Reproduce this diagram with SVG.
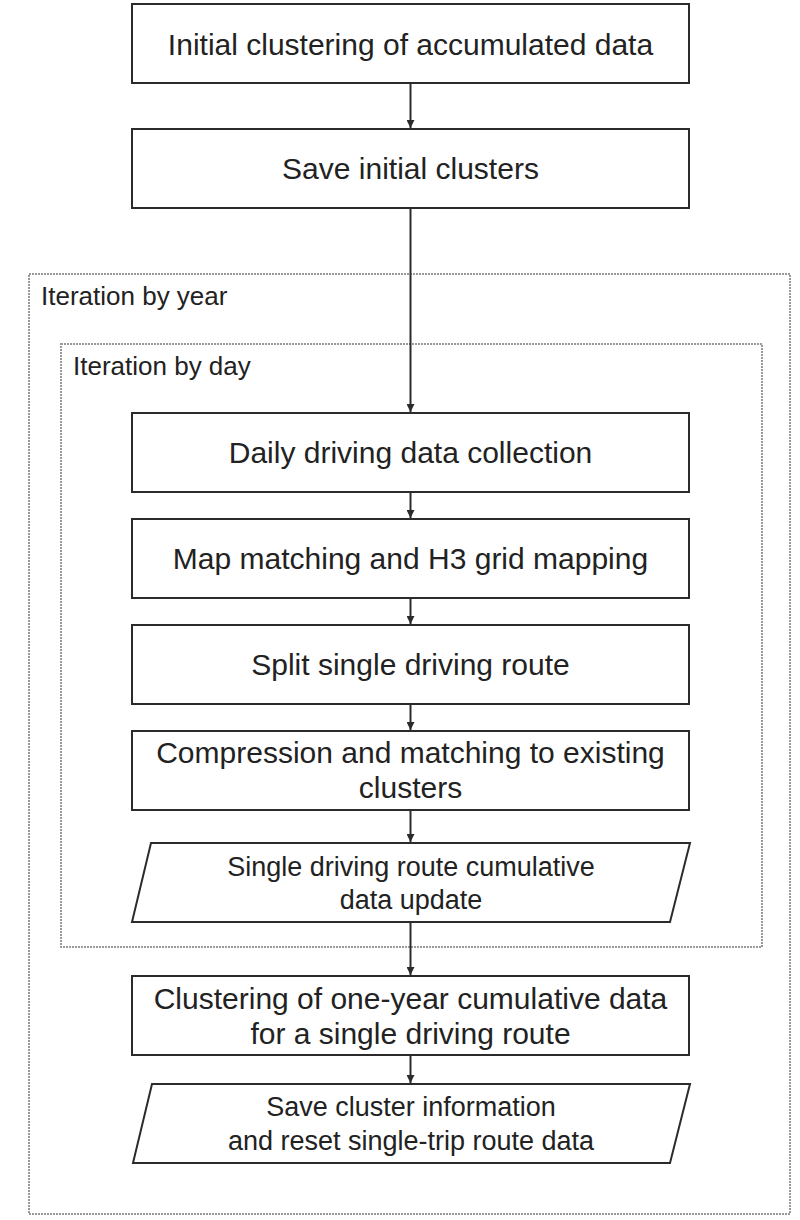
<svg xmlns="http://www.w3.org/2000/svg" width="800" height="1220" viewBox="0 0 800 1220">
<defs>
<style>
.box{fill:#fff;stroke:#2b2b2b;stroke-width:2}
.frame{fill:none;stroke:#9a9a9a;stroke-width:2;stroke-dasharray:2 1}
.t{font-family:"Liberation Sans",Arial,sans-serif;font-size:30px;fill:#222;text-anchor:middle}
.s{font-family:"Liberation Sans",Arial,sans-serif;font-size:27px;fill:#222;text-anchor:middle}
.lbl{font-family:"Liberation Sans",Arial,sans-serif;font-size:26px;fill:#222}
.c{stroke:#2b2b2b;stroke-width:2;fill:none}
</style>
<marker id="ah" viewBox="0 0 8 8" refX="8" refY="4" markerWidth="4" markerHeight="4" orient="auto" markerUnits="strokeWidth">
<path d="M0,0 L8,4 L0,8 z" fill="#2b2b2b"/>
</marker>
</defs>
<rect width="800" height="1220" fill="#fff"/>
<g id="year-loop">
<rect class="frame" x="29" y="274" width="761" height="940"/>
<text class="lbl" x="41" y="305">Iteration by year</text>
</g>
<g id="day-loop">
<rect class="frame" x="61" y="344" width="701" height="603"/>
<text class="lbl" x="73" y="375">Iteration by day</text>
</g>
<g id="connectors">
<line class="c" x1="410.5" y1="83" x2="410.5" y2="128" marker-end="url(#ah)"/>
<line class="c" x1="410.5" y1="208" x2="410.5" y2="412" marker-end="url(#ah)"/>
<line class="c" x1="410.5" y1="492" x2="410.5" y2="518" marker-end="url(#ah)"/>
<line class="c" x1="410.5" y1="598" x2="410.5" y2="624" marker-end="url(#ah)"/>
<line class="c" x1="410.5" y1="704" x2="410.5" y2="730" marker-end="url(#ah)"/>
<line class="c" x1="410.5" y1="810" x2="410.5" y2="842" marker-end="url(#ah)"/>
<line class="c" x1="410.5" y1="922" x2="410.5" y2="975" marker-end="url(#ah)"/>
<line class="c" x1="410.5" y1="1055" x2="410.5" y2="1083" marker-end="url(#ah)"/>
</g>
<g id="n1">
<rect class="box" x="132" y="4" width="557" height="79"/>
<text class="t" x="410.5" y="55">Initial clustering of accumulated data</text>
</g>
<g id="n2">
<rect class="box" x="132" y="129" width="557" height="79"/>
<text class="t" x="410.5" y="179">Save initial clusters</text>
</g>
<g id="n3">
<rect class="box" x="132" y="413" width="557" height="79"/>
<text class="t" x="410.5" y="463">Daily driving data collection</text>
</g>
<g id="n4">
<rect class="box" x="132" y="519" width="557" height="79"/>
<text class="t" x="410.5" y="569">Map matching and H3 grid mapping</text>
</g>
<g id="n5">
<rect class="box" x="132" y="625" width="557" height="79"/>
<text class="t" x="410.5" y="675">Split single driving route</text>
</g>
<g id="n6">
<rect class="box" x="132" y="731" width="557" height="79"/>
<text class="t" x="410.5" y="763">Compression and matching to existing</text>
<text class="t" x="410.5" y="798">clusters</text>
</g>
<g id="n7">
<polygon class="box" points="151,843 690,843 670,922 132,922"/>
<text class="s" x="411" y="876">Single driving route cumulative</text>
<text class="s" x="411" y="909">data update</text>
</g>
<g id="n8">
<rect class="box" x="132" y="976" width="557" height="79"/>
<text class="t" x="410.5" y="1009">Clustering of one-year cumulative data</text>
<text class="t" x="410.5" y="1044">for a single driving route</text>
</g>
<g id="n9">
<polygon class="box" points="152,1084 690,1084 670,1163 133,1163"/>
<text class="s" x="411" y="1116">Save cluster information</text>
<text class="s" x="411" y="1150">and reset single-trip route data</text>
</g>
</svg>
